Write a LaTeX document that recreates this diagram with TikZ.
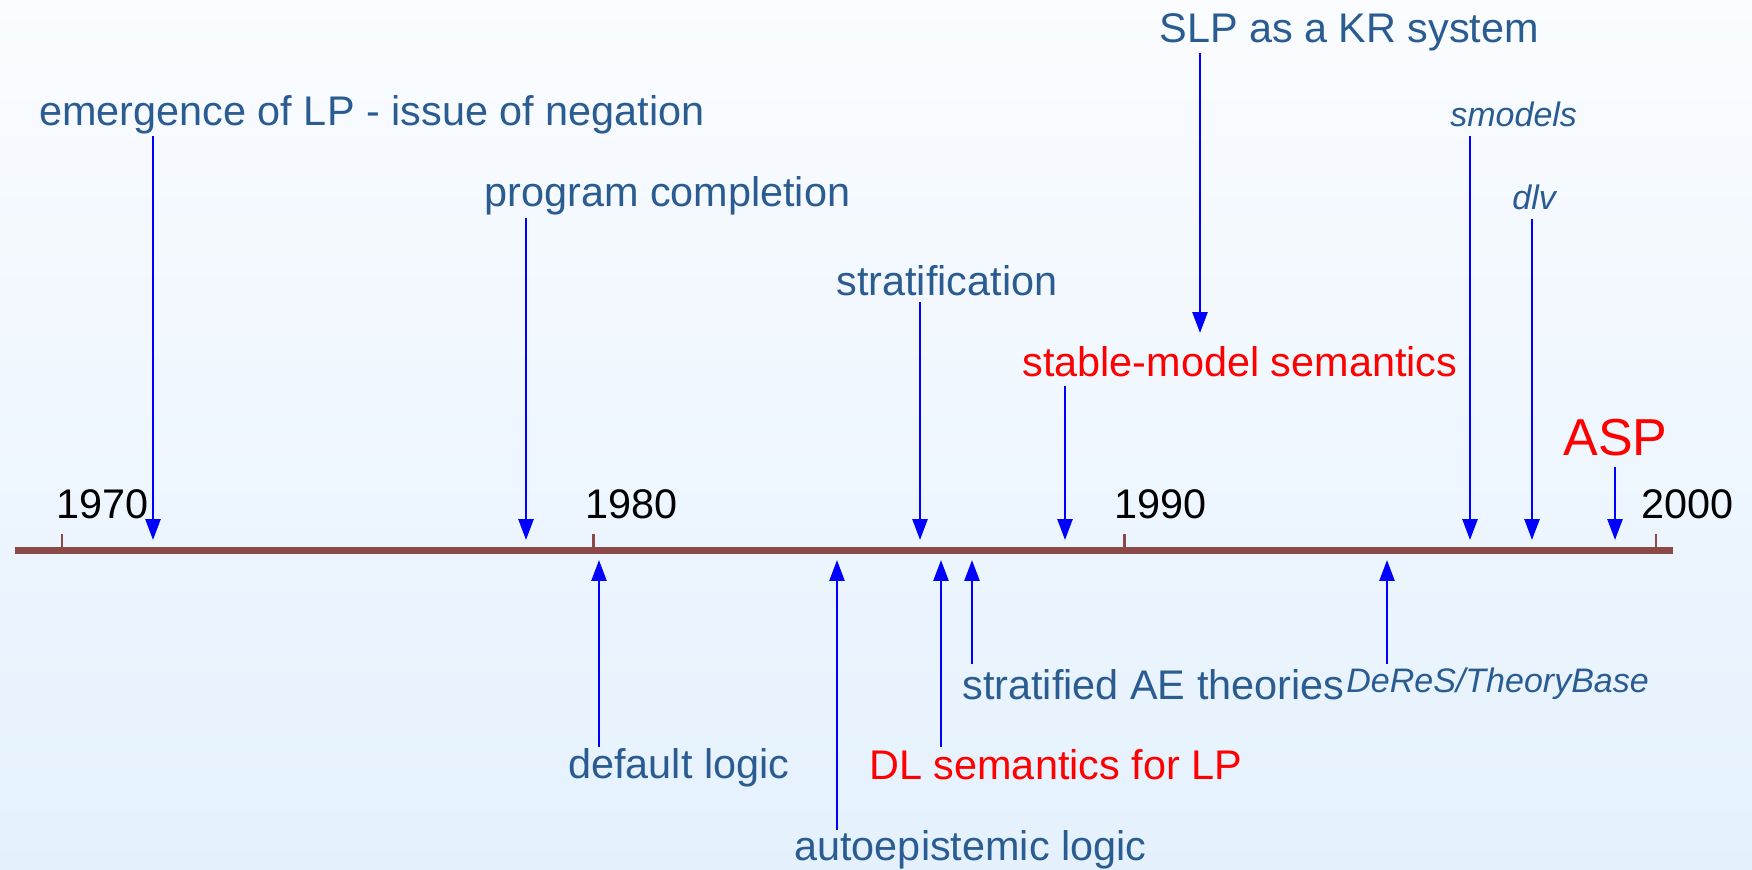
\documentclass[tikz,border=0pt]{standalone}
\usepackage{fontspec}
\setmainfont{Liberation Sans}
\usetikzlibrary{arrows.meta}
\definecolor{labelblue}{RGB}{42,92,145}
\definecolor{axisbrown}{RGB}{139,74,71}
\definecolor{arrowblue}{RGB}{0,0,255}
\definecolor{bgtop}{RGB}{250,252,255}
\definecolor{bgbottom}{RGB}{228,241,253}

\begin{document}
\begin{tikzpicture}[x=0.5pt,y=-0.5pt,
  lbl/.style={anchor=base west, inner sep=0pt, text=labelblue,
              font=\fontsize{20.7}{24}\selectfont},
  hot/.style={lbl, text=red},
  tool/.style={lbl, font=\fontsize{17}{20}\selectfont\itshape},
  year/.style={anchor=base west, inner sep=0pt, text=black,
               font=\fontsize{20.7}{24}\selectfont},
  event/.style={draw=arrowblue, line width=1.35pt,
                -{Triangle[length=10.4pt,width=7.4pt]}},
  tickmark/.style={draw=axisbrown, line width=1.35pt},
  axisline/.style={draw=axisbrown, line width=3.5pt}]

% page and background
\useasboundingbox (0,0) rectangle (1752,869);
\shade[top color=bgtop, bottom color=bgbottom] (0,0) rectangle (1752,869);

% time axis with decade ticks
\coordinate (axisL) at (15,550);
\coordinate (axisR) at (1673,550);
\draw[axisline] (axisL) -- (axisR);
\foreach \name/\x in {t1970/62, t1980/593.3, t1990/1124.7, t2000/1656} {
  \coordinate (\name) at (\x,550);
  \coordinate (\name-top) at (\x,534);
  \draw[tickmark] (\name) -- (\name-top);
}
\node[year] (y1970) at (56,518) {1970};
\node[year] (y1980) at (585,518) {1980};
\node[year] (y1990) at (1114,518) {1990};
\node[year] (y2000) at (1641,518) {2000};

% events above the axis
\node[lbl] (emergence) at (39,125) {emergence of LP - issue of negation};
\node[lbl] (completion) at (484,206) {program completion};
\node[lbl] (strat) at (836,295) {stratification};
\node[hot] (stable) at (1022,376) {stable-model semantics};
\node[lbl] (slp) at (1159,42) {SLP as a KR system};
\node[tool] (smodels) at (1450,126) {smodels};
\node[tool] (dlv) at (1512,209) {dlv};
\node[hot, font=\fontsize{26}{30}\selectfont] (asp) at (1563,455) {ASP};

\coordinate (emergence-a) at (153,136);  \coordinate (emergence-b) at (153,540);
\coordinate (completion-a) at (526,218); \coordinate (completion-b) at (526,540);
\coordinate (strat-a) at (920,302);      \coordinate (strat-b) at (920,540);
\coordinate (stable-a) at (1065,386);    \coordinate (stable-b) at (1065,540);
\coordinate (slp-a) at (1200,53);        \coordinate (slp-b) at (1200,333);
\coordinate (smodels-a) at (1470,136);   \coordinate (smodels-b) at (1470,540);
\coordinate (dlv-a) at (1532,219);       \coordinate (dlv-b) at (1532,540);
\coordinate (asp-a) at (1615,467);       \coordinate (asp-b) at (1615,540);

\foreach \e in {emergence, completion, strat, stable, slp, smodels, dlv, asp}
  \draw[event] (\e-a) -- (\e-b);

% events below the axis
\node[lbl] (default) at (568,778) {default logic};
\node[lbl] (autoep) at (794,860) {autoepistemic logic};
\node[hot] (dlsem) at (869,779) {DL semantics for LP};
\node[lbl] (stratae) at (962,699) {stratified AE theories};
\node[tool] (deres) at (1346,692) {DeReS/TheoryBase};

\coordinate (default-a) at (599,747);   \coordinate (default-b) at (599,560);
\coordinate (autoep-a) at (837,830);    \coordinate (autoep-b) at (837,560);
\coordinate (dlsem-a) at (941,747);     \coordinate (dlsem-b) at (941,560);
\coordinate (stratae-a) at (972,664);   \coordinate (stratae-b) at (972,560);
\coordinate (deres-a) at (1387,664);    \coordinate (deres-b) at (1387,560);

\foreach \e in {default, autoep, dlsem, stratae, deres}
  \draw[event] (\e-a) -- (\e-b);
\end{tikzpicture}
\end{document}
